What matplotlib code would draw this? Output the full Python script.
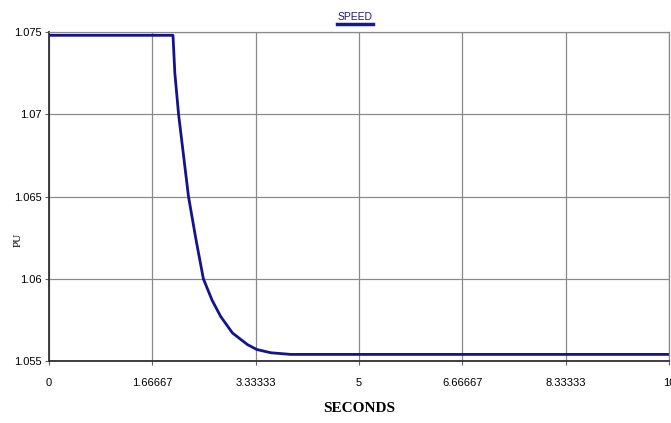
import numpy as np
import matplotlib
matplotlib.use("Agg")
import matplotlib.pyplot as plt

# speed trace (seconds, pu)
t = [0.0, 2.0, 2.03, 2.09, 2.17, 2.25, 2.37, 2.49, 2.63, 2.77, 2.96, 3.20, 3.35, 3.58, 3.90, 10.0]
speed = [1.0748, 1.0748, 1.0725, 1.0700, 1.0675, 1.0650, 1.0624, 1.0600, 1.0587, 1.0577,
         1.0567, 1.0560, 1.0557, 1.0555, 1.0554, 1.0554]

xticks = [0, 1.66667, 3.33333, 5, 6.66667, 8.33333, 10]
xticklabels = ["0", "1.66667", "3.33333", "5", "6.66667", "8.33333", "10"]
yticks = [1.055, 1.06, 1.065, 1.07, 1.075]
yticklabels = ["1.055", "1.06", "1.065", "1.07", "1.075"]

sans = ["Liberation Sans", "DejaVu Sans"]
serif = ["Liberation Serif", "DejaVu Serif"]

fig = plt.figure(figsize=(6.71, 4.23), dpi=100)
ax = fig.add_axes([0.073, 0.1466, 0.924, 0.7777])

ax.plot(t, speed, color="#14148a", lw=2.0, solid_joinstyle="round")

ax.set_xlim(0, 10)
ax.set_ylim(1.055, 1.075)
ax.set_xticks(xticks)
ax.set_xticklabels(xticklabels, family=sans, fontsize=8)
ax.set_yticks(yticks)
ax.set_yticklabels(yticklabels, family=sans, fontsize=8)
ax.tick_params(axis="both", length=3, width=0.8, color="#606060", pad=2)
ax.tick_params(axis="x", pad=9)

ax.grid(True, color="#8a8a8a", lw=0.9)
ax.set_axisbelow(True)
for side in ["top", "right"]:
    ax.spines[side].set_color("#8a8a8a")
    ax.spines[side].set_linewidth(0.9)
for side in ["left", "bottom"]:
    ax.spines[side].set_color("#303030")
    ax.spines[side].set_linewidth(1.3)

ax.set_xlabel("SECONDS", family=serif, fontweight="bold", fontsize=11, labelpad=10)
ax.set_ylabel("PU", family=serif, fontsize=8)
ax.yaxis.set_label_coords(-0.043, 0.368)

fig.text(0.529, 0.960, "SPEED", family=sans, fontsize=7.5, color="#1a1a7a",
         ha="center", va="center")
fig.add_artist(plt.Line2D([0.502, 0.556], [0.944, 0.944], color="#1a1a8a", lw=2.5))

fig.savefig("out.png", dpi=100)
